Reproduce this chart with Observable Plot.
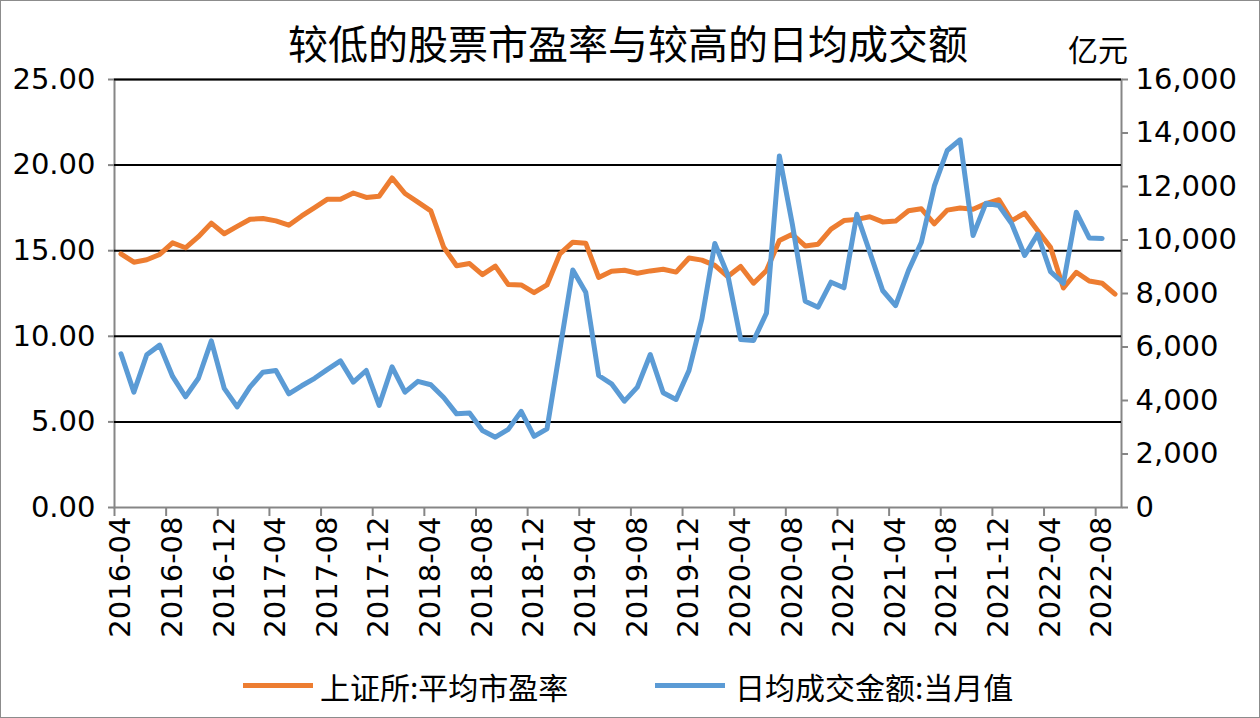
<!DOCTYPE html>
<html>
<head>
<meta charset="utf-8">
<script src="https://cdn.jsdelivr.net/npm/d3@7"></script>
<script src="https://cdn.jsdelivr.net/npm/@observablehq/plot@0.6"></script>
<style>
  html, body { margin: 0; padding: 0; background: #fff; }
  #wrap { position: relative; width: 1260px; height: 718px; background: #fff; overflow: hidden; }
  #frame { position: absolute; left: 0; top: 0; width: 1260px; height: 718px; box-sizing: border-box; border: 1px solid #8c8c8c; pointer-events: none; }
  #title { position: absolute; left: 0; top: 17px; width: 1256px; text-align: center; font-family: "Noto Sans CJK SC"; font-size: 40px; line-height: 50px; color: #000; }
  #unit { position: absolute; left: 1068px; top: 28px; font-family: "Noto Sans CJK SC"; font-size: 30px; line-height: 40px; color: #000; }
  #chart { position: absolute; left: 0; top: 60px; }
  .lgline { position: absolute; height: 5px; top: 683px; width: 70px; }
  .lgtext { position: absolute; top: 666px; font-family: "Noto Sans CJK SC"; font-size: 30px; line-height: 40px; color: #000; white-space: nowrap; }
</style>
</head>
<body>
<div id="wrap">
  <div id="title"></div>
  <div id="unit"></div>
  <div id="chart"></div>
  <div class="lgline" id="lg1" style="left:243px"></div>
  <div class="lgtext" id="lt1" style="left:320px"></div>
  <div class="lgline" id="lg2" style="left:655px"></div>
  <div class="lgtext" id="lt2" style="left:735px"></div>
  <div id="frame"></div>
</div>
<script>
const titleText = "较低的股票市盈率与较高的日均成交额";
const unitText = "亿元";
const seriesNames = ["上证所:平均市盈率", "日均成交金额:当月值"];
const seriesColors = ["#ED7D31", "#5B9BD5"];

const months = [
  "2016-04","2016-05","2016-06","2016-07","2016-08","2016-09","2016-10","2016-11","2016-12",
  "2017-01","2017-02","2017-03","2017-04","2017-05","2017-06","2017-07","2017-08","2017-09","2017-10","2017-11","2017-12",
  "2018-01","2018-02","2018-03","2018-04","2018-05","2018-06","2018-07","2018-08","2018-09","2018-10","2018-11","2018-12",
  "2019-01","2019-02","2019-03","2019-04","2019-05","2019-06","2019-07","2019-08","2019-09","2019-10","2019-11","2019-12",
  "2020-01","2020-02","2020-03","2020-04","2020-05","2020-06","2020-07","2020-08","2020-09","2020-10","2020-11","2020-12",
  "2021-01","2021-02","2021-03","2021-04","2021-05","2021-06","2021-07","2021-08","2021-09","2021-10","2021-11","2021-12",
  "2022-01","2022-02","2022-03","2022-04","2022-05","2022-06","2022-07","2022-08","2022-09"
];

const xTickLabels = ["2016-04","2016-08","2016-12","2017-04","2017-08","2017-12","2018-04","2018-08","2018-12","2019-04",
  "2019-08","2019-12","2020-04","2020-08","2020-12","2021-04","2021-08","2021-12","2022-04","2022-08"];

// 上证所:平均市盈率 (left axis)
const peValues = [
  14.82,14.33,14.47,14.78,15.46,15.17,15.82,16.61,15.99,
  16.42,16.84,16.88,16.74,16.49,17.03,17.51,18.01,18.01,18.37,18.11,18.18,
  19.25,18.34,17.84,17.33,15.20,14.12,14.25,13.60,14.10,13.02,13.00,12.55,
  13.00,14.82,15.50,15.44,13.44,13.80,13.86,13.68,13.82,13.92,13.75,14.57,
  14.45,14.14,13.49,14.08,13.10,13.84,15.60,15.96,15.28,15.38,16.26,16.76,
  16.83,16.98,16.68,16.73,17.33,17.45,16.57,17.37,17.49,17.42,17.75,17.98,
  16.76,17.19,16.18,15.20,12.82,13.74,13.23,13.10,12.46
];

// 日均成交金额:当月值 (right axis, 亿元)
const volValues = [
  5745,4312,5710,6070,4900,4140,4830,6230,4455,
  3760,4510,5060,5120,4250,4550,4830,5165,5480,4686,5121,3813,
  5260,4312,4715,4590,4110,3502,3530,2879,2629,2920,3595,2660,
  2941,5900,8880,8050,4935,4623,3975,4498,5720,4290,4037,5121,
  7050,9870,8700,6280,6243,7265,13140,10600,7713,7488,8423,8213,
  10960,9550,8112,7551,8860,9918,12011,13346,13746,10168,11376,11290,
  10606,9421,10220,8820,8380,11039,10075,10060
];

const leftTicks = [0, 5, 10, 15, 20, 25];
const rightTicks = [0, 2000, 4000, 6000, 8000, 10000, 12000, 14000, 16000];

document.getElementById("title").textContent = titleText;
document.getElementById("unit").textContent = unitText;
document.getElementById("lt1").textContent = seriesNames[0];
document.getElementById("lt2").textContent = seriesNames[1];
document.getElementById("lg1").style.background = seriesColors[0];
document.getElementById("lg2").style.background = seriesColors[1];

const peData = months.map((m, i) => ({month: m, value: peValues[i]}));
const volData = volValues.map((v, i) => ({month: months[i], value: v}));

const W = 1260, H = 595, mL = 114, mR = 139, mT = 19, mB = 148;
const k = 25 / 16000; // right-axis values mapped onto the left scale
const bw = (W - mL - mR) / months.length;
const axisGray = "#868686";
const fmtLeft = d3.format(".2f");
const fmtRight = d3.format(",");

const chart = Plot.plot({
  width: W, height: H,
  marginLeft: mL, marginRight: mR, marginTop: mT, marginBottom: mB,
  style: {fontFamily: "DejaVu Sans", fontSize: "29px", color: "#000", background: "transparent", overflow: "visible"},
  x: {type: "band", domain: months, padding: 0, align: 0.5},
  y: {type: "linear", domain: [0, 25]},
  marks: [
    Plot.frame({stroke: axisGray, strokeWidth: 2}),
    Plot.gridY(leftTicks.filter(d => d > 0), {stroke: "#000", strokeOpacity: 1, strokeWidth: 2}),
    Plot.axisY(leftTicks, {anchor: "left", tickSize: 6, tickPadding: 13, tickFormat: d => fmtLeft(d), stroke: axisGray, strokeWidth: 2, fill: "#000", label: null}),
    Plot.axisY(rightTicks, {anchor: "right", y: d => d * k, tickSize: 6, tickPadding: 8, tickFormat: d => fmtRight(d), stroke: axisGray, strokeWidth: 2, fill: "#000", label: null}),
    Plot.axisX(xTickLabels, {anchor: "bottom", tickSize: 0, tickRotate: -90, tickPadding: 9, fill: "#000", label: null}),
    Plot.axisX(xTickLabels, {anchor: "bottom", tickSize: 9, tickFormat: () => "", dx: -bw / 2, stroke: axisGray, strokeWidth: 2, label: null}),
    Plot.lineY(peData, {x: "month", y: "value", stroke: seriesColors[0], strokeWidth: 5, strokeLinejoin: "round", strokeLinecap: "round"}),
    Plot.lineY(volData, {x: "month", y: d => d.value * k, stroke: seriesColors[1], strokeWidth: 5, strokeLinejoin: "round", strokeLinecap: "round"})
  ]
});
document.getElementById("chart").appendChild(chart);
</script>
</body>
</html>
